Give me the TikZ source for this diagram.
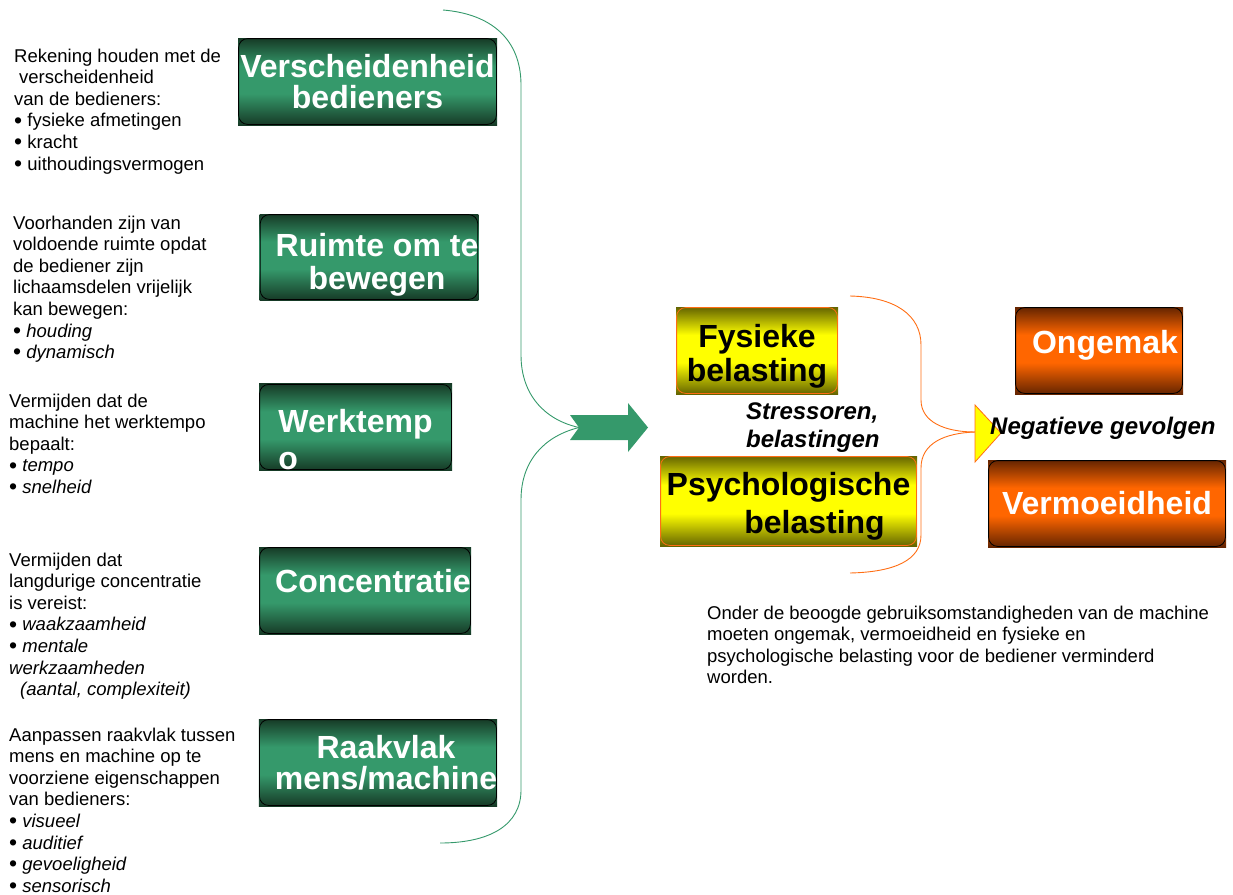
\documentclass[tikz,border=0pt]{standalone}
\usepackage{fontspec}
\setmainfont{Liberation Sans}

\definecolor{grmid}{RGB}{53,153,107}
\definecolor{grdark}{RGB}{22,58,38}
\definecolor{yemid}{RGB}{255,255,0}
\definecolor{yedark}{RGB}{100,100,0}
\definecolor{ormid}{RGB}{255,102,0}
\definecolor{ordark}{RGB}{100,36,0}
\definecolor{orline}{RGB}{255,110,20}

\pgfdeclareverticalshading{greenshade}{100bp}{color(0bp)=(grdark); color(25bp)=(grdark); color(43bp)=(grmid); color(59bp)=(grmid); color(75bp)=(grdark); color(100bp)=(grdark)}
\pgfdeclareverticalshading{yellowshade}{100bp}{color(0bp)=(yedark); color(25bp)=(yedark); color(43bp)=(yemid); color(59bp)=(yemid); color(75bp)=(yedark); color(100bp)=(yedark)}
\pgfdeclareverticalshading{orangeshade}{100bp}{color(0bp)=(ordark); color(25bp)=(ordark); color(43bp)=(ormid); color(59bp)=(ormid); color(75bp)=(ordark); color(100bp)=(ordark)}

\newcommand\boxfont{\fontsize{32}{31}\selectfont\bfseries}
\newcommand\notefont{\fontsize{18.5}{21.6}\selectfont}
\newcommand\labfont{\fontsize{24}{28}\selectfont\bfseries\itshape}
\newcommand\bul{\raisebox{-1.2pt}{\fontsize{23}{0}\selectfont\textbullet}}

\tikzset{
  rbox/.style={rectangle, inner sep=0pt, align=center, font=\boxfont,
    path picture={\draw[#1, line width=0.8pt, rounded corners=9pt]
      ([shift={(0.6pt,-0.6pt)}]path picture bounding box.north west) rectangle
      ([shift={(-0.6pt,0.6pt)}]path picture bounding box.south east);}},
  greenbox/.style={rbox=black, shade, shading=greenshade, text=white},
  yellowbox/.style={rbox=orline, shade, shading=yellowshade, text=black},
  orangebox/.style={rbox=black, shade, shading=orangeshade, text=white},
  desc/.style={anchor=north west, inner sep=0pt, align=left, font=\notefont},
  grline/.style={draw=grmid, line width=0.9pt},
  orlinestyle/.style={draw=orline, line width=0.9pt}
}

\begin{document}
\begin{tikzpicture}[x=1pt,y=-1pt]

\useasboundingbox (0,0) rectangle (1233,894);

\node[greenbox, minimum width=259pt, minimum height=87pt] (divers) at (367.5,81.5) {Verscheidenheid\\bedieners};
\node[greenbox, minimum width=218pt, minimum height=86pt] (space) at (369,257) {\mbox{}\\[8pt]\hspace*{16pt}Ruimte om te\\[2pt]\hspace*{16pt}bewegen};
\node[greenbox, minimum width=193pt, minimum height=86pt, align=left] (tempo) at (355.5,427) {\mbox{}\\[18pt]Werktemp\\[6pt]o};
\node[greenbox, minimum width=212pt, minimum height=87pt] (conc) at (365,590.5) {\hspace*{16pt}Concentratie\\[-12pt]\mbox{}};
\node[greenbox, minimum width=238pt, minimum height=87pt] (iface) at (378,762.5) {\hspace*{16pt}Raakvlak\\\hspace*{16pt}mens/machine};

\node[desc] (tdivers) at (14,48.5) {Rekening houden met de\\\hspace*{5pt}verscheidenheid\\van de bedieners:\\\bul{} fysieke afmetingen\\\bul{} kracht\\\bul{} uithoudingsvermogen};
\node[desc] (tspace) at (13,215.5) {Voorhanden zijn van\\voldoende ruimte opdat\\de bediener zijn\\lichaamsdelen vrijelijk\\kan bewegen:\\\bul{} \textit{houding}\\\bul{} \textit{dynamisch}};
\node[desc] (ttempo) at (9,393.5) {Vermijden dat de\\machine het werktempo\\bepaalt:\\\bul{} \textit{tempo}\\\bul{} \textit{snelheid}};
\node[desc] (tconc) at (9,552.5) {Vermijden dat\\langdurige concentratie\\is vereist:\\\bul{} \textit{waakzaamheid}\\\bul{} \textit{mentale}\\\textit{werkzaamheden}\\\hspace*{11pt}\textit{(aantal, complexiteit)}};
\node[desc] (tiface) at (9,727.5) {Aanpassen raakvlak tussen\\mens en machine op te\\voorziene eigenschappen\\van bedieners:\\\bul{} \textit{visueel}\\\bul{} \textit{auditief}\\\bul{} \textit{gevoeligheid}\\\bul{} \textit{sensorisch}};

\coordinate (gtop) at (443,10);
\coordinate (gbot) at (440,843);
\coordinate (gtip) at (579,427.5);

\draw[grline] (gtop) .. controls (492,14) and (521,40) .. (521,85) -- (521,355) .. controls (521,395) and (545,420) .. (gtip);
\draw[grline] (gtip) .. controls (545,436) and (521,460) .. (521,500) -- (521,790) .. controls (521,825) and (490,843) .. (gbot);

\fill[grmid] (570,415) -- (628,415) -- (628,403) -- (648,427.5) -- (628,452) -- (628,440) -- (570,440) -- (gtip) -- cycle;

\node[yellowbox, minimum width=162pt, minimum height=87pt] (phys) at (757,350.5) {\mbox{}\\[4pt]Fysieke\\[3pt]belasting};
\node[yellowbox, minimum width=257pt, minimum height=90pt] (psych) at (788.5,501) {\mbox{}\\[2pt]Psychologische\\[7pt]\hspace*{52pt}belasting};

\node[anchor=north west, inner sep=0pt, align=left, font=\labfont] (stress) at (746,403) {Stressoren,\\belastingen};

\coordinate (otop) at (850,296);
\coordinate (obot) at (850,573);
\coordinate (otip) at (975,432);

\draw[orlinestyle] (otop) .. controls (895,297) and (921,315) .. (921,345) -- (921,400) .. controls (921,422) and (945,432) .. (otip);
\draw[orlinestyle] (otip) .. controls (945,433) and (921,443) .. (921,468) -- (921,535) .. controls (921,560) and (895,572) .. (obot);

\filldraw[fill=yemid, draw=orline, line width=0.8pt] (975,405) -- (1001,433) -- (975,462) -- cycle;

\node[anchor=west, inner sep=0pt, font=\labfont] (neg) at (990,428) {Negatieve gevolgen};

\node[orangebox, minimum width=168pt, minimum height=87pt] (discomf) at (1099,350.5) {\hspace*{12pt}Ongemak\\[-13pt]\mbox{}};
\node[orangebox, minimum width=238pt, minimum height=87pt] (fatigue) at (1107,503.5) {Vermoeidheid};

\node[desc] (tnote) at (707,605.5) {Onder de beoogde gebruiksomstandigheden van de machine\\moeten ongemak, vermoeidheid en fysieke en\\psychologische belasting voor de bediener verminderd\\worden.};

\end{tikzpicture}
\end{document}
